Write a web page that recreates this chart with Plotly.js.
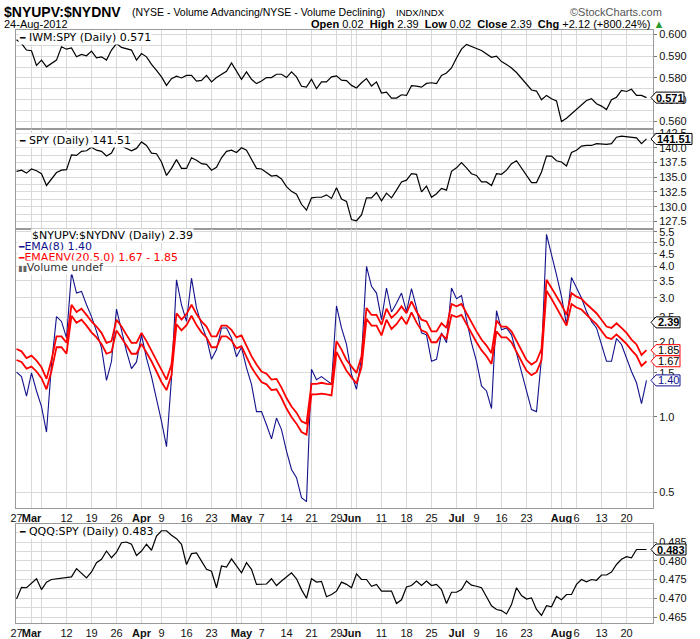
<!DOCTYPE html>
<html><head><meta charset="utf-8">
<script src="https://cdn.plot.ly/plotly-3.0.1.min.js"></script>
<style>html,body{margin:0;padding:0;background:#fff}#chart{width:700px;height:639px}</style>
</head><body><div id="chart"></div>
<script>
// ---- trading days (categories) ----
const tradingDays = {
  '2012-02': [27,28,29],
  '2012-03': [1,2,5,6,7,8,9,12,13,14,15,16,19,20,21,22,23,26,27,28,29,30],
  '2012-04': [2,3,4,5,9,10,11,12,13,16,17,18,19,20,23,24,25,26,27,30],
  '2012-05': [1,2,3,4,7,8,9,10,11,14,15,16,17,18,21,22,23,24,25,29,30,31],
  '2012-06': [1,4,5,6,7,8,11,12,13,14,15,18,19,20,21,22,25,26,27,28,29],
  '2012-07': [2,3,5,6,9,10,11,12,13,16,17,18,19,20,23,24,25,26,27,30,31],
  '2012-08': [1,2,3,6,7,8,9,10,13,14,15,16,17,20,21,22,23,24]
};
const dates = [];
Object.keys(tradingDays).forEach(m => tradingDays[m].forEach(d => dates.push(m + '-' + String(d).padStart(2,'0'))));

// ---- tick labels ----
const tickDates = ['2012-02-27','2012-03-01','2012-03-05','2012-03-12','2012-03-19','2012-03-26','2012-04-02','2012-04-09','2012-04-16','2012-04-23','2012-04-30','2012-05-01','2012-05-07','2012-05-14','2012-05-21','2012-05-29','2012-06-01','2012-06-04','2012-06-11','2012-06-18','2012-06-25','2012-07-02','2012-07-09','2012-07-16','2012-07-23','2012-07-30','2012-08-01','2012-08-06','2012-08-13','2012-08-20'];
const tickText  = ['27','<b>Mar</b>','','12','19','26','<b>Apr</b>','9','16','23','','<b>May</b>','7','14','21','29','<b>Jun</b>','','11','18','25','<b>Jul</b>','9','16','23','','<b>Aug</b>','6','13','20'];
const monthStarts = ['2012-03-01','2012-04-02','2012-05-01','2012-06-01','2012-07-02','2012-08-01'];

// ---- series ----
const iwmSpy = [0.5975,0.5958,0.5928,0.5925,0.5858,0.5882,0.5851,0.5866,0.5882,0.5943,
 0.5932,0.5938,0.5897,0.5908,0.5902,0.5923,0.5892,0.5897,0.5882,0.5928,
 0.5958,0.5940,0.5935,0.5928,0.5882,0.5912,0.5897,0.5862,0.5835,0.5805,
 0.5766,0.5797,0.5808,0.5800,0.5812,0.5812,0.5786,0.5789,0.5812,0.5782,
 0.5802,0.5817,0.5831,0.5869,0.5828,0.5794,0.5828,0.5794,0.5774,0.5786,
 0.5802,0.5802,0.5817,0.5817,0.5802,0.5828,0.5805,0.5762,0.5758,0.5794,
 0.5751,0.5782,0.5782,0.5805,0.5810,0.5790,0.5788,0.5766,0.5754,0.5778,
 0.5797,0.5763,0.5782,0.5731,0.5735,0.5708,0.5708,0.5723,0.5720,0.5765,
 0.5763,0.5758,0.5775,0.5778,0.5774,0.5812,0.5823,0.5846,0.5892,0.5932,
 0.5954,0.5946,0.5935,0.5926,0.5911,0.5895,0.5900,0.5875,0.5862,0.5846,
 0.5825,0.5800,0.5775,0.5745,0.5740,0.5700,0.5720,0.5705,0.5695,0.5600,
 0.5615,0.5635,0.5658,0.5677,0.5697,0.5705,0.5682,0.5671,0.5655,0.5700,
 0.5712,0.5743,0.5738,0.5748,0.5720,0.5720,0.5710];

const spy = [136.0,136.2,135.7,136.4,136.1,135.6,133.6,134.8,135.8,136.2,
 136.3,138.8,138.7,139.4,139.5,140.1,139.6,139.4,138.6,139.1,
 140.8,140.3,139.9,139.5,139.9,141.0,140.4,139.1,139.0,137.6,
 135.3,136.5,138.0,136.5,136.5,138.3,137.9,137.3,137.2,136.2,
 136.7,138.3,139.4,139.6,139.2,140.0,139.6,138.0,136.5,136.4,
 135.8,135.2,135.3,134.7,133.4,132.6,132.1,130.4,129.4,131.5,
 131.6,131.6,132.0,131.4,133.2,131.3,130.9,127.8,127.6,128.6,
 131.5,131.5,132.4,131.0,132.3,131.5,132.8,134.2,134.5,135.6,
 135.5,132.5,133.5,131.6,132.2,133.1,132.8,136.0,136.6,137.5,
 136.6,135.6,135.3,134.2,134.2,133.6,135.6,135.5,136.2,137.3,
 137.8,136.6,135.3,134.1,134.1,135.9,138.6,138.6,137.8,137.6,
 136.9,139.2,139.6,140.3,140.4,140.4,140.7,140.6,140.6,140.7,
 141.8,142.0,141.9,141.7,141.7,140.7,141.51];

const ema8 = [1.51,1.45,1.21,1.50,1.27,1.10,0.87,1.62,2.52,2.41,
 2.07,3.78,3.13,3.18,2.81,2.52,2.20,1.89,1.40,1.67,
 2.70,2.23,1.83,1.56,1.66,2.13,1.72,1.45,1.19,0.96,
 0.76,1.43,3.54,2.81,2.41,3.59,2.73,2.34,2.07,1.70,
 1.86,2.27,2.27,2.07,1.74,1.90,1.57,1.35,1.05,1.05,
 0.93,0.817,0.99,0.89,0.73,0.616,0.571,0.475,0.458,1.55,
 1.41,1.45,1.40,1.355,2.78,2.27,1.95,1.48,1.29,1.72,
 4.00,3.33,3.13,2.45,3.28,2.63,2.85,3.13,2.64,3.26,
 2.73,2.17,2.13,1.67,1.70,2.17,1.98,3.28,2.97,3.06,
 2.45,1.98,1.67,1.33,1.27,1.08,2.66,2.23,2.27,2.13,
 1.80,1.52,1.27,1.07,1.05,1.72,5.38,4.52,3.70,3.03,
 2.34,3.61,3.28,2.99,2.64,2.41,2.27,1.95,1.67,1.67,
 2.06,1.95,1.72,1.52,1.37,1.13,1.40];

const envUpper = [1.87,1.83,1.72,1.76,1.68,1.58,1.42,1.69,2.10,2.10,
 1.98,2.81,2.63,2.71,2.56,2.41,2.30,2.17,1.98,2.01,
 2.45,2.30,2.13,1.98,1.98,2.17,2.01,1.84,1.68,1.52,
 1.41,1.62,2.60,2.45,2.58,2.81,2.58,2.41,2.30,2.10,
 2.10,2.32,2.32,2.23,2.08,2.12,1.92,1.75,1.62,1.52,
 1.49,1.41,1.42,1.31,1.19,1.10,1.04,0.96,0.94,1.355,
 1.355,1.37,1.355,1.35,2.01,1.86,1.69,1.59,1.50,1.75,
 2.73,2.56,2.56,2.34,2.71,2.49,2.60,2.77,2.60,2.90,
 2.64,2.45,2.41,2.20,2.20,2.37,2.27,2.83,2.77,2.83,
 2.60,2.37,2.20,2.04,1.93,1.80,2.43,2.30,2.30,2.20,
 2.01,1.83,1.69,1.62,1.67,1.87,3.54,3.28,3.03,2.81,
 2.56,3.13,3.03,2.97,2.83,2.71,2.60,2.45,2.30,2.27,
 2.37,2.27,2.17,2.04,1.95,1.77,1.85];

const envLower = [1.69,1.66,1.56,1.59,1.52,1.43,1.29,1.53,1.90,1.90,
 1.79,2.54,2.38,2.45,2.32,2.18,2.08,1.96,1.79,1.82,
 2.22,2.08,1.93,1.79,1.79,1.96,1.82,1.67,1.52,1.38,
 1.28,1.47,2.35,2.22,2.33,2.54,2.33,2.18,2.08,1.90,
 1.90,2.10,2.10,2.02,1.88,1.92,1.74,1.58,1.47,1.38,
 1.35,1.28,1.29,1.19,1.08,1.00,0.94,0.87,0.85,1.23,
 1.23,1.24,1.23,1.22,1.82,1.68,1.53,1.44,1.36,1.58,
 2.47,2.32,2.32,2.12,2.45,2.25,2.35,2.51,2.35,2.62,
 2.39,2.22,2.18,1.99,1.99,2.14,2.05,2.56,2.51,2.56,
 2.35,2.14,1.99,1.85,1.75,1.63,2.20,2.08,2.08,1.99,
 1.82,1.66,1.53,1.47,1.51,1.69,3.20,2.97,2.74,2.54,
 2.32,2.83,2.74,2.69,2.56,2.45,2.35,2.22,2.08,2.05,
 2.14,2.05,1.96,1.85,1.76,1.60,1.67];

const qqqSpy = [0.4698,0.4729,0.4728,0.4739,0.4752,0.4723,0.4743,0.4750,0.4752,0.4754,
 0.4754,0.4757,0.4779,0.4766,0.4754,0.4770,0.4795,0.4804,0.4826,0.4808,
 0.4823,0.4848,0.4850,0.4844,0.4814,0.4826,0.4844,0.4828,0.4866,0.4880,
 0.4880,0.4868,0.4859,0.4844,0.4790,0.4819,0.4821,0.4799,0.4777,0.4772,
 0.4728,0.4786,0.4783,0.4805,0.4788,0.4768,0.4795,0.4777,0.4737,0.4738,
 0.4738,0.4752,0.4734,0.4746,0.4757,0.4768,0.4752,0.4723,0.4700,0.4752,
 0.4743,0.4745,0.4704,0.4710,0.4719,0.4743,0.4737,0.4728,0.4765,0.4750,
 0.4750,0.4732,0.4737,0.4719,0.4719,0.4719,0.4686,0.4696,0.4730,0.4734,
 0.4746,0.4734,0.4746,0.4734,0.4737,0.4723,0.4686,0.4716,0.4716,0.4723,
 0.4746,0.4735,0.4732,0.4728,0.4704,0.4680,0.4670,0.4667,0.4658,0.4683,
 0.4728,0.4707,0.4698,0.4701,0.4670,0.4654,0.4680,0.4677,0.4705,0.4696,
 0.4710,0.4710,0.4737,0.4750,0.4744,0.4750,0.4748,0.4762,0.4762,0.4770,
 0.4790,0.4804,0.4811,0.4808,0.4830,0.4830,0.4830];

// last values shown in tags / legends
const lastIwm = 0.571, lastSpy = 141.51, lastRatio = 2.39, lastEma = 1.40, lastUp = 1.85, lastLo = 1.67, lastQqq = 0.483;

// ---- layout helpers ----
const GRID = '#d9d9d9', BORDER = '#9a9a9a', MONTH = '#a6a6a6';
const AX_FONT = {family:'Liberation Sans, Arial, sans-serif', size:11, color:'#111'};
const LG_FONT = 'DejaVu Sans, Verdana, sans-serif';
const P = px => (px - 16) / 637;
const Q = py => (623 - py) / 593;

function xa(anchor, labels) {
  return {type:'category', anchor:anchor, range:[-0.1,127.3], tickmode:'array', tickvals:tickDates, ticktext:tickText,
    showticklabels:labels, tickangle:0, ticks:'', tickfont:AX_FONT, showgrid:true, gridcolor:GRID, gridwidth:1,
    showline:true, linecolor:BORDER, linewidth:1, mirror:true, zeroline:false, fixedrange:true, automargin:false};
}
function ya(anchor, extra) {
  return Object.assign({anchor:anchor, side:'right', showgrid:true, gridcolor:GRID, gridwidth:1, showline:true,
    linecolor:BORDER, linewidth:1, mirror:true, ticks:'outside', ticklen:3, tickcolor:'#777', tickfont:AX_FONT,
    zeroline:false, fixedrange:true, automargin:false}, extra);
}

const traces = [
  {x:dates, y:iwmSpy, xaxis:'x', yaxis:'y', type:'scatter', mode:'lines', line:{color:'#000', width:1.2}},
  {x:dates, y:spy, xaxis:'x2', yaxis:'y2', type:'scatter', mode:'lines', line:{color:'#000', width:1.2}},
  {x:dates, y:ema8, xaxis:'x3', yaxis:'y3', type:'scatter', mode:'lines', line:{color:'#12128c', width:1.1}},
  {x:dates, y:envUpper, xaxis:'x3', yaxis:'y3', type:'scatter', mode:'lines', line:{color:'#ff0000', width:1.8}},
  {x:dates, y:envLower, xaxis:'x3', yaxis:'y3', type:'scatter', mode:'lines', line:{color:'#ff0000', width:1.8}},
  {x:dates, y:qqqSpy, xaxis:'x4', yaxis:'y4', type:'scatter', mode:'lines', line:{color:'#000', width:1.2}}
];

const shapes = [];
[['x','y'],['x2','y2'],['x3','y3'],['x4','y4']].forEach(([xr,yr]) => {
  monthStarts.forEach(d => shapes.push({type:'line', xref:xr, yref:yr+' domain', x0:d, x1:d, y0:0, y1:1,
    line:{color:MONTH, width:1}, layer:'below'}));
});

const annotations = [];
function tag(yref, yval, isLog, w, color, text, bold, textColor) {
  shapes.push({type:'path', xref:'paper', yref:yref, xsizemode:'pixel', ysizemode:'pixel', xanchor:1, yanchor:yval,
    path:`M-2,0 L3,5.5 L${w},5.5 L${w},-5.5 L3,-5.5 Z`, fillcolor:'#fff', line:{color:color, width:1}});
  annotations.push({xref:'paper', yref:yref, x:1, y:isLog ? Math.log10(yval) : yval, xanchor:'center', yanchor:'middle',
    xshift:(3 + w) / 2, showarrow:false, text: bold ? '<b>' + text + '</b>' : text,
    font:{family:'Liberation Sans, Arial, sans-serif', size:11, color:textColor || '#000'}});
}
tag('y', lastIwm, false, 31, '#000', '0.571', true);
tag('y2', lastSpy, false, 39, '#000', '141.51', true);
tag('y3', lastRatio, true, 27, '#000', '2.39', true);
tag('y3', lastUp, true, 27, '#ff0000', '1.85', false);
tag('y3', lastLo, true, 27, '#ff0000', '1.67', false);
tag('y3', lastEma, true, 27, '#12128c', '1.40', false, '#12128c');
tag('y4', lastQqq, false, 33, '#000', '0.483', true);

function note(px, py, text, opts) {
  annotations.push(Object.assign({xref:'paper', yref:'paper', x:P(px), y:Q(py), xanchor:'left', yanchor:'middle',
    showarrow:false, text:text, font:{family:LG_FONT, size:11, color:'#000'}, borderpad:0}, opts || {}));
}
const dash = c => `<span style="color:${c};font-size:9px"><b>━</b></span>`;
// panel legends
note(18, 37, dash('#000') + ' IWM:SPY (Daily) 0.571', {bgcolor:'#fff'});
note(18, 140, dash('#000') + ' SPY (Daily) 141.51', {bgcolor:'#fff'});
note(31, 235, '&#36;NYUPV:&#36;NYDNV (Daily) 2.39', {bgcolor:'#fff'});
note(17, 246, dash('#12128c') + '<span style="color:#12128c">EMA(8) 1.40</span>', {bgcolor:'#fff'});
note(17, 257, dash('#ff0000') + '<span style="color:#ff0000">EMAENV(20,5.0) 1.67 - 1.85</span>', {bgcolor:'#fff'});
note(17, 267, '<span style="color:#666;font-size:8px">▮▮</span><span style="color:#333">Volume undef</span>', {bgcolor:'#fff'});
note(18, 531, dash('#000') + ' QQQ:SPY (Daily) 0.483', {bgcolor:'#fff'});
// header
const HF = 'Liberation Sans, Arial, sans-serif';
note(3, 12, '<b>&#36;NYUPV:&#36;NYDNV</b>', {font:{family:HF, size:14, color:'#000'}});
note(131, 12, '(NYSE - Volume Advancing/NYSE - Volume Declining)', {font:{family:HF, size:10.5, color:'#000'}});
note(395, 12, 'INDX/INDX', {font:{family:HF, size:9.5, color:'#000'}});
note(663, 12, '©StockCharts.com', {xanchor:'right', font:{family:HF, size:11, color:'#555'}});
note(3, 24, '24-Aug-2012', {font:{family:HF, size:11, color:'#000'}});
note(665, 24, '<b>Open</b> 0.02  <b>High</b> 2.39  <b>Low</b> 0.02  <b>Close</b> 2.39  <b>Chg</b> +2.12 (+800.24%) <span style="color:#2a9a2a">▲</span>',
  {xanchor:'right', font:{family:HF, size:11, color:'#000'}});

const layout = {
  width:700, height:639, margin:{l:16, r:47, t:30, b:16}, paper_bgcolor:'#fff', plot_bgcolor:'#fff',
  showlegend:false, hovermode:false, font:AX_FONT,
  xaxis:xa('y', false), xaxis2:xa('y2', false), xaxis3:xa('y3', true), xaxis4:xa('y4', true),
  yaxis: ya('x', {domain:[Q(129), 1], range:[0.5566, 0.602], tick0:0.56, dtick:0.01, tickformat:'.3f',
    minor:{dtick:0.005, tick0:0.56, showgrid:true, gridcolor:GRID, ticks:''}}),
  yaxis2: ya('x2', {domain:[Q(229), Q(129)], range:[126.2, 143.2], tick0:127.5, dtick:2.5, tickformat:'.1f',
    minor:{dtick:1.25, tick0:127.5, showgrid:true, gridcolor:GRID, ticks:''}}),
  yaxis3: ya('x3', {domain:[Q(508), Q(229)], type:'log', range:[Math.log10(0.432), Math.log10(5.65)], tickmode:'array',
    tickvals:[0.5,1,1.5,2,2.5,3,3.5,4,4.5,5,5.5], ticktext:['0.5','1.0','1.5','2.0','2.5','3.0','3.5','4.0','4.5','5.0','5.5']}),
  yaxis4: ya('x4', {domain:[0, Q(524)], range:[0.4634, 0.4898], tick0:0.465, dtick:0.005, tickformat:'.3f',
    minor:{dtick:0.0025, tick0:0.465, showgrid:true, gridcolor:GRID, ticks:''}}),
  shapes:shapes, annotations:annotations
};
Plotly.newPlot('chart', traces, layout, {staticPlot:true, displayModeBar:false});
</script></body></html>
